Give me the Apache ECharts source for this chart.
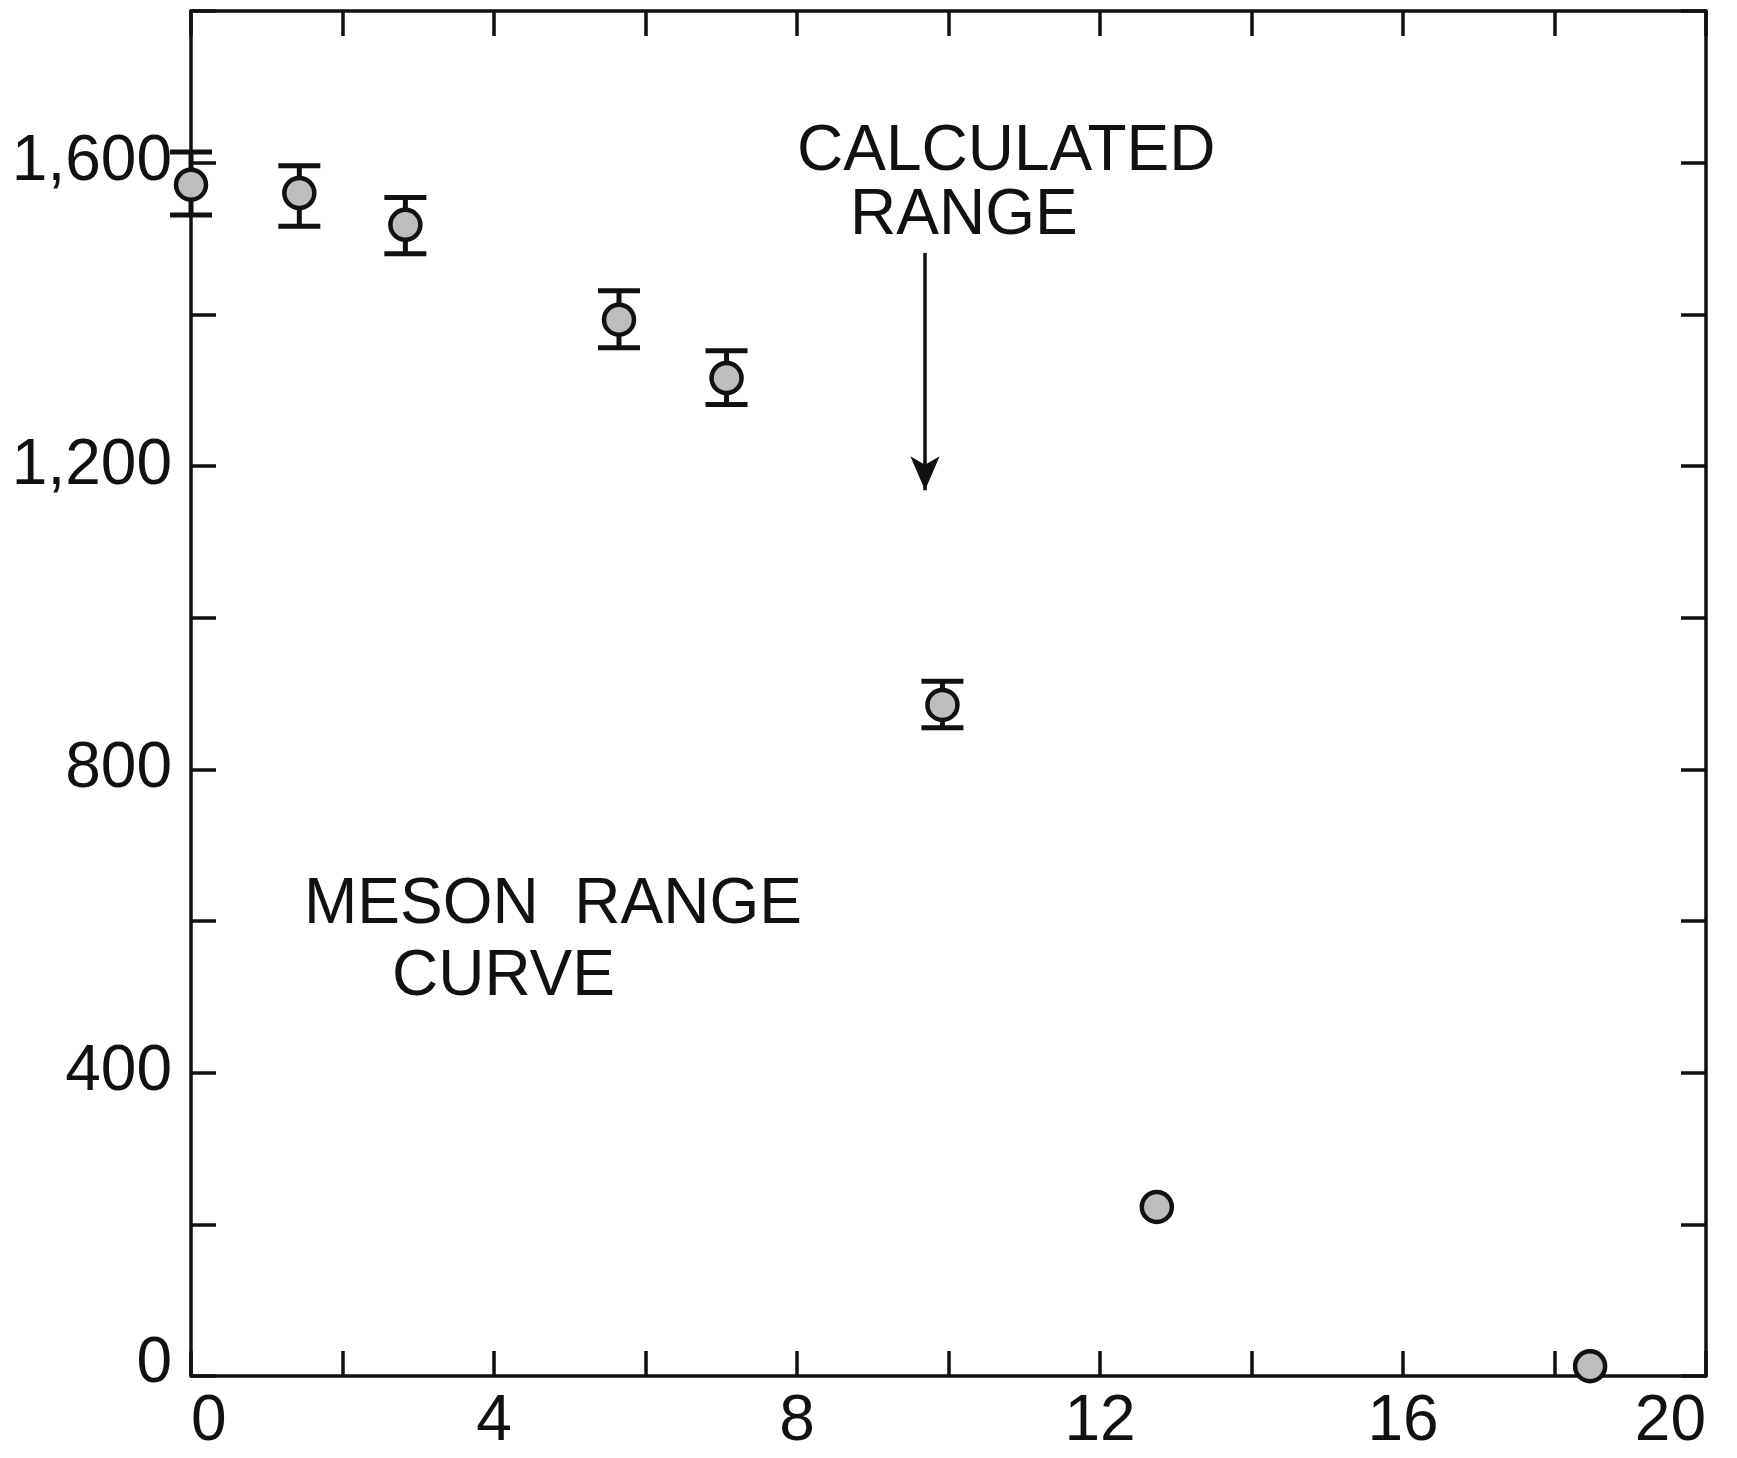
<!DOCTYPE html>
<html>
<head>
  <meta charset="UTF-8" />
  <title>Meson range curve</title>
  <script src="https://cdn.jsdelivr.net/npm/echarts@6/dist/echarts.min.js"></script>
  <style>
    html, body { margin: 0; padding: 0; background: #fff; }
    #chart { width: 1737px; height: 1458px; }
  </style>
</head>
<body>
  <div id="chart"></div>
  <script>
    // measured points (x, y) and error bar limits
    const xVals = [0, 1.43, 2.83, 5.65, 7.07, 9.92, 12.75, 18.47];
    const yVals = [1571, 1560, 1518, 1393, 1316, 885, 223, 13];
    const errLow = [1531, 1516, 1480, 1356, 1281, 855, null, null];
    const errHigh = [1614, 1596, 1554, 1431, 1352, 916, null, null];

    // calculated range arrow (x, from y, to y)
    const arrowX = 9.69;
    const arrowFrom = 1481;
    const arrowTo = 1168;

    const FONT = "'Liberation Sans', Arial, sans-serif";
    const INK = '#111';

    const points = xVals.map((x, i) => [x, yVals[i]]);
    const errData = xVals
      .map((x, i) => [x, errLow[i], errHigh[i]])
      .filter(d => d[1] != null);

    function xLabel(v) {
      return v % 4 === 0 ? String(v) : '';
    }
    function yLabel(v) {
      if (v % 400 !== 0 || v > 1600) return '';
      if (v === 0) return '{z|0}';
      return v.toLocaleString('en-US');
    }

    const tickStyle = { show: true, inside: true, length: 25, lineStyle: { color: INK, width: 3.5 } };
    const lineStyle = { show: true, onZero: false, lineStyle: { color: INK, width: 3.5 } };

    const chart = echarts.init(document.getElementById('chart'));
    chart.setOption({
      animation: false,
      backgroundColor: '#fff',
      grid: { left: 191, right: 31, top: 11, bottom: 82 },
      xAxis: [
        {
          type: 'value', position: 'bottom', min: 0, max: 20, interval: 2,
          axisLine: lineStyle, axisTick: tickStyle, splitLine: { show: false },
          axisLabel: {
            formatter: xLabel, color: INK, fontFamily: FONT, fontSize: 64, margin: 14,
            alignMinLabel: 'left', alignMaxLabel: 'right'
          }
        },
        {
          type: 'value', position: 'top', min: 0, max: 20, interval: 2,
          axisLine: lineStyle, axisTick: tickStyle, splitLine: { show: false },
          axisLabel: { show: false }
        }
      ],
      yAxis: [
        {
          type: 'value', position: 'left', min: 0, max: 1800, interval: 200,
          axisLine: lineStyle, axisTick: tickStyle, splitLine: { show: false },
          axisLabel: {
            formatter: yLabel, color: INK, fontFamily: FONT, fontSize: 64, margin: 19,
            rich: { z: { fontFamily: FONT, fontSize: 64, color: INK, padding: [0, 0, 24, 0] } }
          }
        },
        {
          type: 'value', position: 'right', min: 0, max: 1800, interval: 200,
          axisLine: lineStyle, axisTick: tickStyle, splitLine: { show: false },
          axisLabel: { show: false }
        }
      ],
      series: [
        {
          type: 'custom',
          data: errData,
          clip: false,
          z: 2,
          renderItem: function (params, api) {
            const x = api.value(0);
            const lo = api.coord([x, api.value(1)]);
            const hi = api.coord([x, api.value(2)]);
            const half = 21;
            const st = { stroke: INK, lineWidth: 5 };
            return {
              type: 'group',
              children: [
                { type: 'line', shape: { x1: lo[0], y1: lo[1], x2: hi[0], y2: hi[1] }, style: st },
                { type: 'line', shape: { x1: hi[0] - half, y1: hi[1], x2: hi[0] + half, y2: hi[1] }, style: st },
                { type: 'line', shape: { x1: lo[0] - half, y1: lo[1], x2: lo[0] + half, y2: lo[1] }, style: st }
              ]
            };
          }
        },
        {
          type: 'scatter',
          data: points,
          clip: false,
          z: 3,
          symbol: 'circle',
          symbolSize: 30,
          itemStyle: { color: '#bdbdbd', borderColor: INK, borderWidth: 4.5, opacity: 1 },
          markLine: {
            silent: true,
            symbol: ['none', 'arrow'],
            symbolSize: [22, 34],
            label: { show: false },
            lineStyle: { color: INK, width: 3.5, type: 'solid' },
            data: [[{ coord: [arrowX, arrowFrom] }, { coord: [arrowX, arrowTo] }]]
          }
        }
      ],
      graphic: [
        { type: 'text', left: 797, top: 120, style: { text: 'CALCULATED', font: '64px ' + FONT, fill: INK } },
        { type: 'text', left: 850, top: 184, style: { text: 'RANGE', font: '64px ' + FONT, fill: INK } },
        { type: 'text', left: 304, top: 873, style: { text: 'MESON  RANGE', font: '64px ' + FONT, fill: INK } },
        { type: 'text', left: 392, top: 945, style: { text: 'CURVE', font: '64px ' + FONT, fill: INK } }
      ]
    });
  </script>
</body>
</html>
